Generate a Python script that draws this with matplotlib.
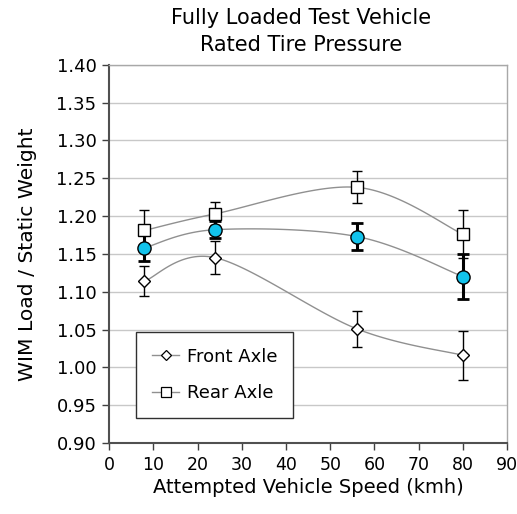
import numpy as np
import matplotlib
matplotlib.use('Agg')
import matplotlib.pyplot as plt

plt.rcParams['font.family'] = ['DejaVu Sans']

# - data
speeds = [8, 24, 56, 80]
front = [1.114, 1.145, 1.051, 1.016]
front_err = [0.020, 0.022, 0.024, 0.032]
rear = [1.181, 1.203, 1.238, 1.176]
rear_err = [0.027, 0.015, 0.021, 0.032]
mean_axle = [1.158, 1.182, 1.173, 1.120]
mean_err = [0.018, 0.011, 0.018, 0.030]

x_ticks = list(range(0, 91, 10))
y_ticks = [0.90, 0.95, 1.00, 1.05, 1.10, 1.15, 1.20, 1.25, 1.30, 1.35, 1.40]
title_lines = ['Fully Loaded Test Vehicle', 'Rated Tire Pressure']


def smooth(x, y, n=40):
    # Excel-like smoothed line (Catmull-Rom bezier through the points)
    x = np.asarray(x, float)
    y = np.asarray(y, float)
    px = np.concatenate([[x[0]], x, [x[-1]]])
    py = np.concatenate([[y[0]], y, [y[-1]]])
    xs, ys = [], []
    for i in range(1, len(px) - 2):
        p0 = np.array([px[i], py[i]])
        p3 = np.array([px[i + 1], py[i + 1]])
        c1 = p0 + (np.array([px[i + 1], py[i + 1]]) - np.array([px[i - 1], py[i - 1]])) / 6
        c2 = p3 - (np.array([px[i + 2], py[i + 2]]) - np.array([px[i], py[i]])) / 6
        t = np.linspace(0, 1, n)[:, None]
        b = ((1 - t) ** 3) * p0 + 3 * ((1 - t) ** 2) * t * c1 + 3 * (1 - t) * t ** 2 * c2 + t ** 3 * p3
        xs.extend(b[:, 0])
        ys.extend(b[:, 1])
    return xs, ys


fig = plt.figure(figsize=(5.17, 5.14), dpi=100)
ax = fig.add_axes([0.211, 0.138, 0.770, 0.736])

line_col = '#909090'
for ys in (front, rear, mean_axle):
    sx, sy = smooth(speeds, ys)
    ax.plot(sx, sy, color=line_col, lw=1.0, zorder=2)

ax.errorbar(speeds, front, yerr=front_err, fmt='none', ecolor='black',
            elinewidth=1.0, capsize=3.5, capthick=1.0, zorder=3)
ax.errorbar(speeds, rear, yerr=rear_err, fmt='none', ecolor='black',
            elinewidth=1.0, capsize=3.5, capthick=1.0, zorder=3)
ax.errorbar(speeds, mean_axle, yerr=mean_err, fmt='none', ecolor='black',
            elinewidth=2.2, capsize=4, capthick=2.0, zorder=3)

ax.plot(speeds, front, ls='none', marker='D', ms=6.0, mfc='white', mec='black', mew=1.0, zorder=4)
ax.plot(speeds, rear, ls='none', marker='s', ms=8.5, mfc='white', mec='black', mew=1.0, zorder=4)
ax.plot(speeds, mean_axle, ls='none', marker='o', ms=9.5, mfc='#12C3EC', mec='black', mew=1.0, zorder=5)

# legend handles
h1, = ax.plot([], [], color=line_col, lw=1.0, marker='D', ms=5, mfc='white', mec='black', mew=0.9)
h2, = ax.plot([], [], color=line_col, lw=1.0, marker='s', ms=6.5, mfc='white', mec='black', mew=0.9)
leg = ax.legend([h1, h2], ['Front Axle', 'Rear Axle'], loc='lower left',
                bbox_to_anchor=(0.068, 0.066), fontsize=13, handlelength=1.5,
                handletextpad=0.4, borderpad=0.9, labelspacing=1.0,
                borderaxespad=0, fancybox=False, framealpha=1, edgecolor='#303030')
leg.get_frame().set_linewidth(1.0)

ax.set_xlim(0, 90)
ax.set_ylim(0.90, 1.40)
ax.set_xticks(x_ticks)
ax.set_yticks(y_ticks)
ax.set_yticklabels(['%.2f' % v for v in y_ticks])
ax.grid(axis='y', color='#c8c8c8', lw=1.0)
ax.set_axisbelow(True)
ax.tick_params(direction='out', length=5, width=1.0, color='#404040', labelsize=13, pad=4)
ax.tick_params(axis='x', labelsize=12.5)

for s in ('left', 'bottom'):
    ax.spines[s].set_color('#505050')
    ax.spines[s].set_linewidth(1.5)
for s in ('right', 'top'):
    ax.spines[s].set_color('#a8a8a8')
    ax.spines[s].set_linewidth(1.0)

ax.set_xlabel('Attempted Vehicle Speed (kmh)', fontsize=14, labelpad=3)
ax.set_ylabel('WIM Load / Static Weight', fontsize=14.6, labelpad=14)
fig.text(0.582, 1 - 18 / 514, title_lines[0], ha='center', va='center', fontsize=15)
fig.text(0.582, 1 - 45 / 514, title_lines[1], ha='center', va='center', fontsize=15)

fig.savefig('out.png', dpi=100)
